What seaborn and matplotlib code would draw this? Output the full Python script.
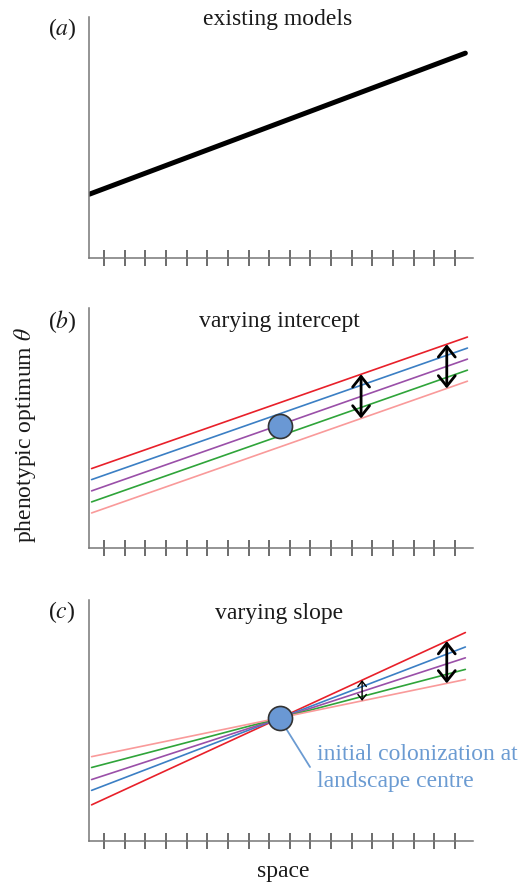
import numpy as np
import pandas as pd
import matplotlib.pyplot as plt
import seaborn as sns

sns.set_style("white")
plt.rcParams['font.family'] = ['Liberation Serif', 'DejaVu Serif']
plt.rcParams['mathtext.fontset'] = 'stix'

# space ticks and landscape centre
ticks = np.arange(1, 19)
centre = 9.5

# (a) existing models: one gradient
a_x = [0.3, 18.5]
a_y = [2.65, 8.5]

# shared line series for (b) and (c)
series = ['red', 'blue', 'purple', 'green', 'pink']
colors = ['#e8202a', '#3b7fc4', '#9a4fa8', '#2fa43a', '#f99a9a']

# (b) varying intercept
b_x = [0.4, 18.6]
b_left = [3.31, 2.85, 2.38, 1.92, 1.46]
b_right = [8.79, 8.33, 7.87, 7.41, 6.95]
b_circle = 5.1
b_arrow_x = [13.45, 17.6]

# (c) varying slope
c_x = [0.4, 18.5]
c_left = [1.5, 2.1, 2.55, 3.05, 3.5]
c_right = [8.65, 8.05, 7.6, 7.12, 6.7]
c_circle = 5.1
c_arrow_x = [13.5, 17.6]
c_arrow_lw = [1.0, 2.0]

W, H = 523, 886
fig = plt.figure(figsize=(W / 100, H / 100), dpi=100)


def make_ax(top, bottom):
    ax = fig.add_axes([89 / W, 1 - bottom / H, (473 - 89) / W, (bottom - top) / H])
    ax.set_xlim(0.274, 18.87)
    ax.set_ylim(0, 10)
    ax.set_xticks(ticks)
    ax.set_yticks([])
    ax.tick_params(axis='x', direction='inout', length=11.5, width=1.1,
                   color='#444444', labelbottom=False, bottom=True)
    sns.despine(ax=ax)
    for s in ['left', 'bottom']:
        ax.spines[s].set_color('#777777')
        ax.spines[s].set_linewidth(1.1)
    ax.set_xlabel('')
    ax.set_ylabel('')
    return ax


def lines_df(xs, left, right):
    rows = []
    for name, l, r in zip(series, left, right):
        rows.append({'space': xs[0], 'theta': l, 'series': name})
        rows.append({'space': xs[1], 'theta': r, 'series': name})
    return pd.DataFrame(rows)


def draw_arrows(ax, xs, left, right, arrow_x, lws):
    top = np.interp(arrow_x, xs, [left[0], right[0]])
    bot = np.interp(arrow_x, xs, [left[-1], right[-1]])
    for x, y0, y1, lw in zip(arrow_x, top, bot, lws):
        hl = 0.38 * lw
        ax.annotate('', xy=(x, y0), xytext=(x, y1),
                    arrowprops=dict(arrowstyle=f'<->,head_length={hl},head_width={hl * 0.8}',
                                    color='black', lw=lw, shrinkA=0, shrinkB=0),
                    zorder=5)


# (a)
ax_a = make_ax(17, 258)
sns.lineplot(x=a_x, y=a_y, color='black', lw=3.6, ax=ax_a)

# (b)
ax_b = make_ax(308, 548)
sns.lineplot(data=lines_df(b_x, b_left, b_right), x='space', y='theta', hue='series',
             hue_order=series, palette=colors, lw=1.2, legend=False, ax=ax_b)
draw_arrows(ax_b, b_x, b_left, b_right, b_arrow_x, [2.0, 2.0])
sns.scatterplot(x=[centre], y=[b_circle], s=300, color='#6a98d4', edgecolor='#333333',
                linewidth=1.2, zorder=6, ax=ax_b)

# (c)
ax_c = make_ax(600, 841)
sns.lineplot(data=lines_df(c_x, c_left, c_right), x='space', y='theta', hue='series',
             hue_order=series, palette=colors, lw=1.2, legend=False, ax=ax_c)
draw_arrows(ax_c, c_x, c_left, c_right, c_arrow_x, c_arrow_lw)
sns.scatterplot(x=[centre], y=[c_circle], s=300, color='#6a98d4', edgecolor='#333333',
                linewidth=1.2, zorder=6, ax=ax_c)
ax_c.annotate('', xy=(centre, c_circle), xytext=(310, H - 767), textcoords='figure pixels',
              arrowprops=dict(arrowstyle='-', color='#6b9bd2', lw=1.3, shrinkA=0, shrinkB=8))
fig.text(317 / W, 1 - 768 / H, 'initial colonization at\nlandscape centre', ha='left',
         va='center', color='#6b9bd2', fontsize=17, linespacing=1.32)

# titles and labels
fs = 17
txt = '#1a1a1a'
fig.text(278 / W, 1 - 20 / H, 'existing models', ha='center', va='center', fontsize=fs, color=txt)
fig.text(279 / W, 1 - 321 / H, 'varying intercept', ha='center', va='center', fontsize=fs, color=txt)
fig.text(279 / W, 1 - 613 / H, 'varying slope', ha='center', va='center', fontsize=fs, color=txt)
for lab, y in zip(['a', 'b', 'c'], [29, 322, 612]):
    fig.text(62 / W, 1 - y / H, r'($\mathit{' + lab + r'}$)', ha='center', va='center',
             fontsize=fs, color=txt)
fig.text(25 / W, 1 - 435 / H, r'phenotypic optimum $\mathit{\theta}$', rotation=90,
         ha='center', va='center', fontsize=fs, color=txt)
fig.text(283 / W, 1 - 872 / H, 'space', ha='center', va='center', fontsize=fs, color=txt)

fig.savefig('out.png', dpi=100)
